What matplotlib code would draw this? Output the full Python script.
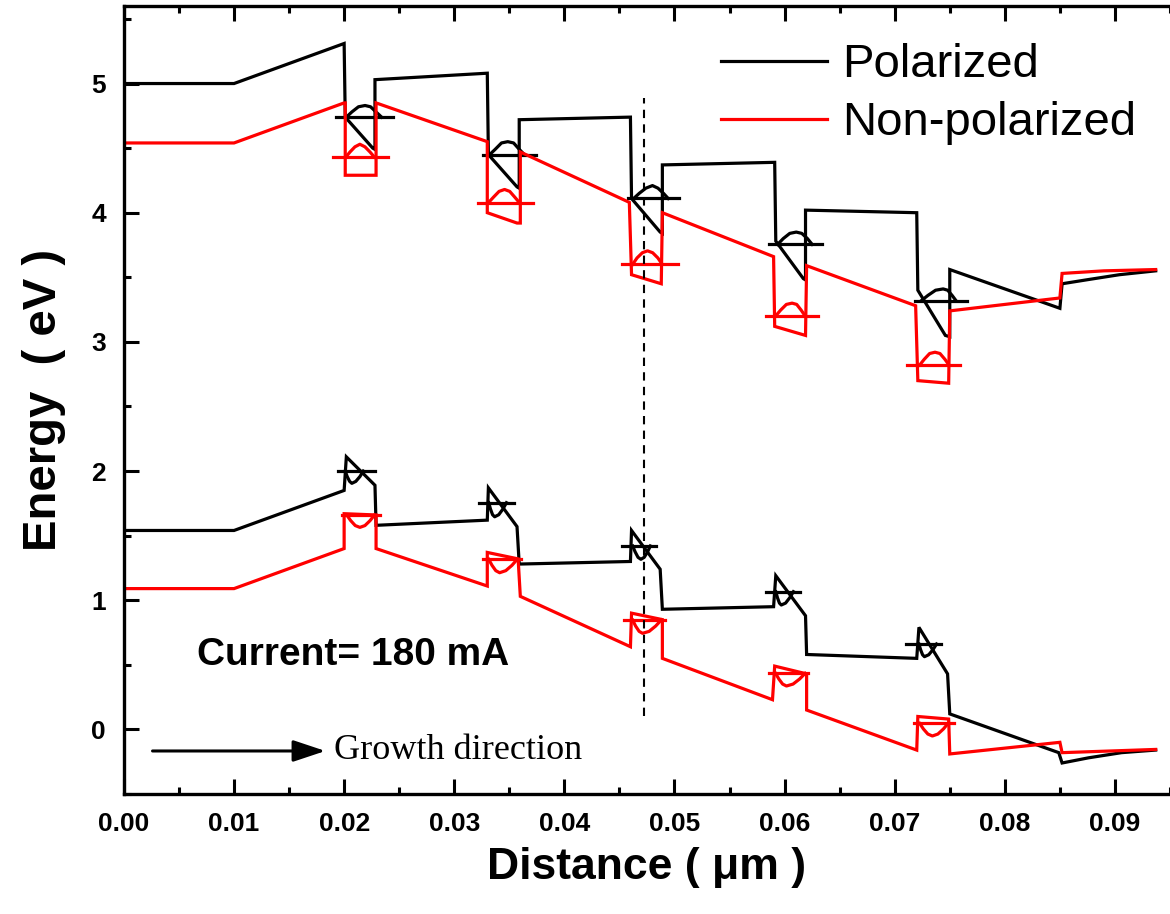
import matplotlib
matplotlib.use("Agg")
import matplotlib.pyplot as plt
from matplotlib.lines import Line2D

plt.rcParams['font.family'] = ['Liberation Sans', 'DejaVu Sans']

# ---------------- band edges (Distance in um, Energy in eV) ----------------
cb_pol_x = [0.0, 0.0100, 0.0200, 0.0201, 0.0226, 0.0228, 0.0228, 0.0330, 0.0331, 0.0357, 0.0359, 0.0359,
            0.0460, 0.0461, 0.0487, 0.0489, 0.0489, 0.0591, 0.0592, 0.0617, 0.0619, 0.0619,
            0.0720, 0.0721, 0.0746, 0.0750, 0.0750, 0.0850, 0.0852, 0.0874, 0.0904, 0.0937]
cb_pol_y = [5.00, 5.00, 5.31, 4.74, 4.50, 4.49, 5.03, 5.08, 4.45, 4.20, 4.19, 4.72,
            4.74, 4.11, 3.85, 3.84, 4.37, 4.39, 3.78, 3.49, 3.48, 4.02,
            4.00, 3.40, 3.05, 3.04, 3.56, 3.26, 3.45, 3.48, 3.52, 3.55]

cb_np_x = [0.0, 0.0100, 0.0200, 0.0201, 0.0201, 0.0229, 0.0229, 0.0330, 0.0330, 0.0357, 0.0360, 0.0360,
           0.0459, 0.0461, 0.0488, 0.0489, 0.0590, 0.0591, 0.0619, 0.0620, 0.0719, 0.0721,
           0.0749, 0.0750, 0.0850, 0.0852, 0.0890, 0.0937]
cb_np_y = [4.54, 4.54, 4.85, 4.85, 4.29, 4.29, 4.85, 4.55, 4.00, 3.92, 3.92, 4.47,
           4.08, 3.52, 3.45, 4.00, 3.66, 3.12, 3.05, 3.59, 3.28, 2.70,
           2.68, 3.24, 3.34, 3.53, 3.55, 3.56]

vb_pol_x = [0.0, 0.0100, 0.0200, 0.0202, 0.0228, 0.0229, 0.0330, 0.0331, 0.0357, 0.0359,
            0.0460, 0.0461, 0.0487, 0.0489, 0.0590, 0.0592, 0.0619, 0.0620,
            0.0720, 0.0722, 0.0748, 0.0750, 0.0849, 0.0852, 0.0876, 0.0906, 0.0937]
vb_pol_y = [1.54, 1.54, 1.85, 2.11, 1.89, 1.58, 1.62, 1.87, 1.57, 1.28,
            1.30, 1.54, 1.24, 0.93, 0.95, 1.19, 0.88, 0.58,
            0.55, 0.79, 0.43, 0.12, -0.18, -0.26, -0.22, -0.18, -0.16]

vb_np_x = [0.0, 0.0100, 0.0200, 0.0200, 0.0229, 0.0229, 0.0330, 0.0330, 0.0358, 0.0360,
           0.0460, 0.0461, 0.0489, 0.0489, 0.0589, 0.0591, 0.0620, 0.0620,
           0.0720, 0.0721, 0.0749, 0.0750, 0.0850, 0.0852, 0.0937]
vb_np_y = [1.09, 1.09, 1.40, 1.67, 1.66, 1.40, 1.11, 1.37, 1.32, 1.03,
           0.64, 0.90, 0.85, 0.55, 0.23, 0.49, 0.43, 0.15,
           -0.16, 0.10, 0.08, -0.19, -0.10, -0.18, -0.155]

# ---------------- confined levels (x start, x end, energy) ----------------
cb_pol_lvl_x0 = [0.01928, 0.0326, 0.04576, 0.05858, 0.07181]
cb_pol_lvl_x1 = [0.02442, 0.0374, 0.05039, 0.06337, 0.07658]
cb_pol_lvl_e = [4.74, 4.446, 4.111, 3.755, 3.318]

cb_np_lvl_x0 = [0.01899, 0.03218, 0.04525, 0.05829, 0.07112]
cb_np_lvl_x1 = [0.02397, 0.03719, 0.05032, 0.06306, 0.0759]
cb_np_lvl_e = [4.428, 4.077, 3.602, 3.20, 2.82]

vb_pol_lvl_x0 = [0.01941, 0.03221, 0.04525, 0.05829, 0.07107]
vb_pol_lvl_x1 = [0.02278, 0.0354, 0.04835, 0.06142, 0.0742]
vb_pol_lvl_e = [2.0, 1.755, 1.42, 1.066, 0.661]

vb_np_lvl_x0 = [0.01979, 0.03262, 0.04546, 0.05858, 0.07172]
vb_np_lvl_x1 = [0.02322, 0.03606, 0.04918, 0.06217, 0.07539]
vb_np_lvl_e = [1.659, 1.317, 0.847, 0.434, 0.047]

# ---------------- wave functions drawn on the levels ----------------
cb_pol_psi_x = [[0.0202, 0.0207, 0.0213, 0.0219, 0.0224, 0.0229, 0.0234],
                [0.03322, 0.03371, 0.03429, 0.03486, 0.03539, 0.03591, 0.03636],
                [0.04629, 0.0468, 0.0474, 0.0480, 0.0485, 0.0490, 0.04943],
                [0.05937, 0.05988, 0.06047, 0.06106, 0.06156, 0.06207, 0.0625],
                [0.07243, 0.07302, 0.07371, 0.0744, 0.07481, 0.07521, 0.07556]]
cb_pol_psi_y = [[4.74, 4.78, 4.82, 4.83, 4.82, 4.78, 4.74],
                [4.45, 4.49, 4.54, 4.55, 4.54, 4.49, 4.45],
                [4.11, 4.15, 4.19, 4.21, 4.19, 4.15, 4.11],
                [3.755, 3.80, 3.84, 3.85, 3.84, 3.80, 3.755],
                [3.32, 3.36, 3.40, 3.41, 3.40, 3.36, 3.32]]

cb_np_psi_x = [[0.02015, 0.02053, 0.02098, 0.02143, 0.02189, 0.02235, 0.02275],
               [0.03313, 0.03356, 0.03407, 0.03457, 0.03504, 0.0355, 0.0359],
               [0.0462, 0.0466, 0.04708, 0.04755, 0.04802, 0.04849, 0.04889],
               [0.05918, 0.05963, 0.06016, 0.06068, 0.0611, 0.06151, 0.06187],
               [0.07226, 0.07268, 0.07317, 0.07366, 0.07411, 0.07456, 0.07494]]
cb_np_psi_y = [[4.43, 4.47, 4.51, 4.53, 4.51, 4.47, 4.43],
               [4.08, 4.12, 4.165, 4.18, 4.165, 4.12, 4.08],
               [3.60, 3.65, 3.69, 3.705, 3.69, 3.65, 3.60],
               [3.20, 3.245, 3.29, 3.30, 3.29, 3.245, 3.20],
               [2.82, 2.865, 2.91, 2.92, 2.91, 2.865, 2.82]]

vb_pol_psi_x = [[0.0201, 0.02028, 0.0205, 0.0207, 0.02106, 0.02143, 0.02174],
                [0.03313, 0.03329, 0.03348, 0.03367, 0.03404, 0.03442, 0.03474],
                [0.0462, 0.04643, 0.04669, 0.04695, 0.04725, 0.04755, 0.04781],
                [0.0592, 0.05935, 0.05953, 0.0597, 0.06009, 0.06047, 0.0608],
                [0.0722, 0.07235, 0.07253, 0.0727, 0.07309, 0.07347, 0.0738]]
vb_pol_psi_y = [[2.0, 1.957, 1.92, 1.905, 1.92, 1.957, 2.0],
                [1.755, 1.706, 1.662, 1.646, 1.662, 1.706, 1.755],
                [1.42, 1.374, 1.332, 1.317, 1.332, 1.374, 1.42],
                [1.066, 1.02, 0.978, 0.963, 0.978, 1.02, 1.066],
                [0.661, 0.617, 0.578, 0.563, 0.578, 0.617, 0.661]]

vb_np_psi_x = [[0.02024, 0.0206, 0.02101, 0.02143, 0.02189, 0.02235, 0.02275],
               [0.03313, 0.03343, 0.03377, 0.03412, 0.03468, 0.03524, 0.03572],
               [0.0462, 0.04647, 0.04679, 0.0471, 0.0477, 0.04829, 0.0488],
               [0.05918, 0.05948, 0.05982, 0.06017, 0.06077, 0.06136, 0.06187],
               [0.07226, 0.07261, 0.07301, 0.07342, 0.07392, 0.07442, 0.07485]]
vb_np_psi_y = [[1.659, 1.616, 1.578, 1.564, 1.578, 1.616, 1.659],
               [1.317, 1.27, 1.229, 1.213, 1.229, 1.27, 1.317],
               [0.847, 0.80, 0.759, 0.744, 0.759, 0.80, 0.847],
               [0.434, 0.39, 0.351, 0.336, 0.351, 0.39, 0.434],
               [0.047, 0.003, -0.036, -0.051, -0.036, 0.003, 0.047]]

dash_x = 0.0472
dash_y = [0.10, 4.89]

series_labels = ['Polarized', 'Non-polarized']
colors = ['black', '#ff0000']

x_ticks = [0.00, 0.01, 0.02, 0.03, 0.04, 0.05, 0.06, 0.07, 0.08, 0.09]
y_ticks = [0, 1, 2, 3, 4, 5]

# ---------------- figure ----------------
fig = plt.figure(figsize=(11.7, 9.14), dpi=100)
ax = fig.add_axes([0.1059, 0.1313, 0.8941, 0.8621])

LW = 2.3


def draw(xs, ys, lx0, lx1, le, px, py, c):
    ax.plot(xs, ys, color=c, lw=LW, solid_joinstyle='miter')
    for a, b, e in zip(lx0, lx1, le):
        ax.plot([a, b], [e, e], color=c, lw=LW)
    for hx, hy in zip(px, py):
        ax.plot(hx, hy, color=c, lw=LW)


draw(cb_pol_x, cb_pol_y, cb_pol_lvl_x0, cb_pol_lvl_x1, cb_pol_lvl_e, cb_pol_psi_x, cb_pol_psi_y, colors[0])
draw(vb_pol_x, vb_pol_y, vb_pol_lvl_x0, vb_pol_lvl_x1, vb_pol_lvl_e, vb_pol_psi_x, vb_pol_psi_y, colors[0])
draw(cb_np_x, cb_np_y, cb_np_lvl_x0, cb_np_lvl_x1, cb_np_lvl_e, cb_np_psi_x, cb_np_psi_y, colors[1])
draw(vb_np_x, vb_np_y, vb_np_lvl_x0, vb_np_lvl_x1, vb_np_lvl_e, vb_np_psi_x, vb_np_psi_y, colors[1])

ax.plot([dash_x, dash_x], dash_y, color='black', lw=1.5, dashes=(4, 3))

ax.set_xlim(0, 0.0937)
ax.set_ylim(-0.5, 5.6)
ax.set_xticks(x_ticks)
ax.set_xticklabels([f'{v:.2f}' for v in x_ticks])
ax.set_yticks(y_ticks)
ax.set_xticks([0.005 + 0.01 * i for i in range(10)], minor=True)
ax.set_yticks([-0.5 + i for i in range(7)], minor=True)

for s in ['left', 'bottom', 'top']:
    ax.spines[s].set_linewidth(2.4)
ax.spines['right'].set_visible(False)

ax.tick_params(which='both', direction='in', top=True, right=False, width=2.2)
ax.tick_params(which='major', length=11)
ax.tick_params(which='minor', length=5)
ax.tick_params(axis='x', which='major', pad=13, labelsize=19)
ax.tick_params(axis='y', which='major', pad=13, labelsize=19)
for lab in ax.get_xticklabels() + ax.get_yticklabels():
    lab.set_fontweight('bold')

ax.set_xlabel('Distance ( \u03bcm )', fontsize=32, fontweight='bold', labelpad=8)
ax.set_ylabel('Energy  ( eV )', fontsize=34, fontweight='bold', labelpad=18)

handles = [Line2D([], [], color=c, lw=LW) for c in colors]
ax.legend(handles, series_labels, loc='upper left', bbox_to_anchor=(0.5705, 0.953),
          frameon=False, fontsize=34, handlelength=2.25, handletextpad=0.33,
          labelspacing=0.3, borderpad=0, borderaxespad=0)

ax.text(0.00663, 0.50, 'Current= 180 mA', fontsize=28, fontweight='bold', va='baseline', ha='left')

ax.annotate('', xy=(0.0183, -0.167), xytext=(0.0026, -0.167),
            arrowprops=dict(arrowstyle='-|>,head_length=0.9,head_width=0.3', lw=2.2, color='black',
                            shrinkA=0, shrinkB=0, mutation_scale=22))
ax.text(0.01905, -0.229, 'Growth direction', fontsize=26, family='Liberation Serif',
        va='baseline', ha='left')

fig.savefig('out.png', dpi=100)
